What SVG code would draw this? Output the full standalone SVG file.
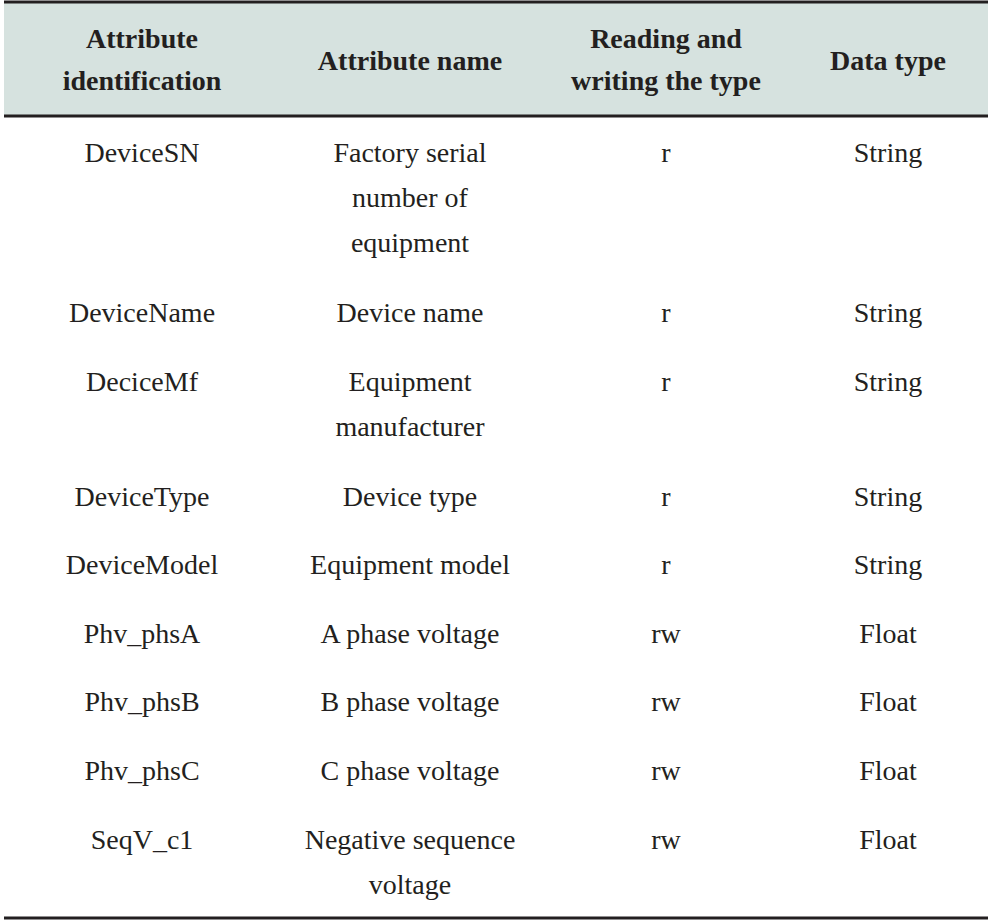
<svg xmlns="http://www.w3.org/2000/svg" width="993" height="924" viewBox="0 0 993 924">
<style>
text{font-family:"Liberation Serif","Times New Roman",serif;font-size:28px;fill:#231f20;text-anchor:middle}
.h{font-weight:bold}
.rule{stroke:#231f20;stroke-width:3}
</style>
<rect width="993" height="924" fill="#fff"/>
<rect x="4" y="3" width="984" height="112" fill="#d6e2df"/>
<g id="rules">
<line class="rule" x1="4" y1="2" x2="988" y2="2"/>
<line class="rule" x1="4" y1="116" x2="988" y2="116"/>
<line class="rule" x1="4" y1="918" x2="988" y2="918"/>
</g>
<g id="header" class="h">
<text class="h" x="142" y="48">Attribute</text>
<text class="h" x="142" y="90">identification</text>
<text class="h" x="410" y="70">Attribute name</text>
<text class="h" x="666" y="48">Reading and</text>
<text class="h" x="666" y="90">writing the type</text>
<text class="h" x="888" y="70">Data type</text>
</g>
<g id="rows">
<text x="142" y="162">DeviceSN</text><text x="410" y="162">Factory serial</text><text x="410" y="207">number of</text><text x="410" y="252">equipment</text><text x="666" y="162">r</text><text x="888" y="162">String</text>
<text x="142" y="322">DeviceName</text><text x="410" y="322">Device name</text><text x="666" y="322">r</text><text x="888" y="322">String</text>
<text x="142" y="391">DeciceMf</text><text x="410" y="391">Equipment</text><text x="410" y="436">manufacturer</text><text x="666" y="391">r</text><text x="888" y="391">String</text>
<text x="142" y="506">DeviceType</text><text x="410" y="506">Device type</text><text x="666" y="506">r</text><text x="888" y="506">String</text>
<text x="142" y="574">DeviceModel</text><text x="410" y="574">Equipment model</text><text x="666" y="574">r</text><text x="888" y="574">String</text>
<text x="142" y="643">Phv_phsA</text><text x="410" y="643">A phase voltage</text><text x="666" y="643">rw</text><text x="888" y="643">Float</text>
<text x="142" y="711">Phv_phsB</text><text x="410" y="711">B phase voltage</text><text x="666" y="711">rw</text><text x="888" y="711">Float</text>
<text x="142" y="780">Phv_phsC</text><text x="410" y="780">C phase voltage</text><text x="666" y="780">rw</text><text x="888" y="780">Float</text>
<text x="142" y="849">SeqV_c1</text><text x="410" y="849">Negative sequence</text><text x="410" y="894">voltage</text><text x="666" y="849">rw</text><text x="888" y="849">Float</text>
</g>
</svg>
